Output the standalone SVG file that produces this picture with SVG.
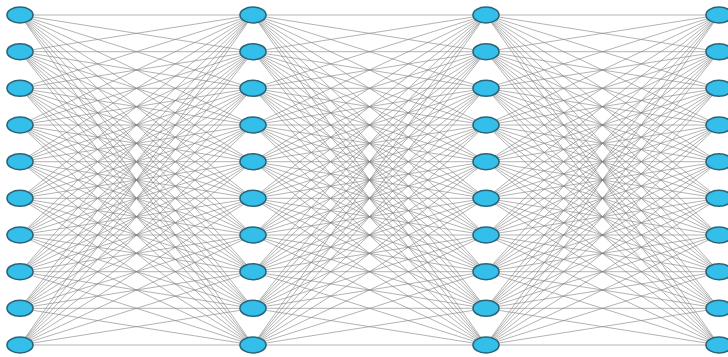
<svg xmlns="http://www.w3.org/2000/svg" xmlns:xlink="http://www.w3.org/1999/xlink" width="728" height="357" viewBox="0 0 728 357">
<style>
.e{fill:none;stroke:#808080;stroke-width:0.8;stroke-opacity:0.75}
.n{fill:#33bfea;stroke:#2b6479;stroke-width:1.6}
</style>
<rect width="728" height="357" fill="#ffffff"/>
<g id="connectors">
<g id="layer1" class="e">
<path d="M20 15L253 15M20 15L253 51.7M20 15L253 88.3M20 15L253 125M20 15L253 161.7M20 15L253 198.3M20 15L253 235M20 15L253 271.7M20 15L253 308.3M20 15L253 345"/>
<path d="M20 51.7L253 15M20 51.7L253 51.7M20 51.7L253 88.3M20 51.7L253 125M20 51.7L253 161.7M20 51.7L253 198.3M20 51.7L253 235M20 51.7L253 271.7M20 51.7L253 308.3M20 51.7L253 345"/>
<path d="M20 88.3L253 15M20 88.3L253 51.7M20 88.3L253 88.3M20 88.3L253 125M20 88.3L253 161.7M20 88.3L253 198.3M20 88.3L253 235M20 88.3L253 271.7M20 88.3L253 308.3M20 88.3L253 345"/>
<path d="M20 125L253 15M20 125L253 51.7M20 125L253 88.3M20 125L253 125M20 125L253 161.7M20 125L253 198.3M20 125L253 235M20 125L253 271.7M20 125L253 308.3M20 125L253 345"/>
<path d="M20 161.7L253 15M20 161.7L253 51.7M20 161.7L253 88.3M20 161.7L253 125M20 161.7L253 161.7M20 161.7L253 198.3M20 161.7L253 235M20 161.7L253 271.7M20 161.7L253 308.3M20 161.7L253 345"/>
<path d="M20 198.3L253 15M20 198.3L253 51.7M20 198.3L253 88.3M20 198.3L253 125M20 198.3L253 161.7M20 198.3L253 198.3M20 198.3L253 235M20 198.3L253 271.7M20 198.3L253 308.3M20 198.3L253 345"/>
<path d="M20 235L253 15M20 235L253 51.7M20 235L253 88.3M20 235L253 125M20 235L253 161.7M20 235L253 198.3M20 235L253 235M20 235L253 271.7M20 235L253 308.3M20 235L253 345"/>
<path d="M20 271.7L253 15M20 271.7L253 51.7M20 271.7L253 88.3M20 271.7L253 125M20 271.7L253 161.7M20 271.7L253 198.3M20 271.7L253 235M20 271.7L253 271.7M20 271.7L253 308.3M20 271.7L253 345"/>
<path d="M20 308.3L253 15M20 308.3L253 51.7M20 308.3L253 88.3M20 308.3L253 125M20 308.3L253 161.7M20 308.3L253 198.3M20 308.3L253 235M20 308.3L253 271.7M20 308.3L253 308.3M20 308.3L253 345"/>
<path d="M20 345L253 15M20 345L253 51.7M20 345L253 88.3M20 345L253 125M20 345L253 161.7M20 345L253 198.3M20 345L253 235M20 345L253 271.7M20 345L253 308.3M20 345L253 345"/>
</g>
<use id="layer2" xlink:href="#layer1" href="#layer1" transform="translate(233,0)"/>
<use id="layer3" xlink:href="#layer1" href="#layer1" transform="translate(466,0)"/>
</g>
<g id="nodes">
<g id="n0_0"><ellipse class="n" cx="20" cy="15" rx="13" ry="8"/></g>
<g id="n0_1"><ellipse class="n" cx="20" cy="51.7" rx="13" ry="8"/></g>
<g id="n0_2"><ellipse class="n" cx="20" cy="88.3" rx="13" ry="8"/></g>
<g id="n0_3"><ellipse class="n" cx="20" cy="125" rx="13" ry="8"/></g>
<g id="n0_4"><ellipse class="n" cx="20" cy="161.7" rx="13" ry="8"/></g>
<g id="n0_5"><ellipse class="n" cx="20" cy="198.3" rx="13" ry="8"/></g>
<g id="n0_6"><ellipse class="n" cx="20" cy="235" rx="13" ry="8"/></g>
<g id="n0_7"><ellipse class="n" cx="20" cy="271.7" rx="13" ry="8"/></g>
<g id="n0_8"><ellipse class="n" cx="20" cy="308.3" rx="13" ry="8"/></g>
<g id="n0_9"><ellipse class="n" cx="20" cy="345" rx="13" ry="8"/></g>
<g id="n1_0"><ellipse class="n" cx="253" cy="15" rx="13" ry="8"/></g>
<g id="n1_1"><ellipse class="n" cx="253" cy="51.7" rx="13" ry="8"/></g>
<g id="n1_2"><ellipse class="n" cx="253" cy="88.3" rx="13" ry="8"/></g>
<g id="n1_3"><ellipse class="n" cx="253" cy="125" rx="13" ry="8"/></g>
<g id="n1_4"><ellipse class="n" cx="253" cy="161.7" rx="13" ry="8"/></g>
<g id="n1_5"><ellipse class="n" cx="253" cy="198.3" rx="13" ry="8"/></g>
<g id="n1_6"><ellipse class="n" cx="253" cy="235" rx="13" ry="8"/></g>
<g id="n1_7"><ellipse class="n" cx="253" cy="271.7" rx="13" ry="8"/></g>
<g id="n1_8"><ellipse class="n" cx="253" cy="308.3" rx="13" ry="8"/></g>
<g id="n1_9"><ellipse class="n" cx="253" cy="345" rx="13" ry="8"/></g>
<g id="n2_0"><ellipse class="n" cx="486" cy="15" rx="13" ry="8"/></g>
<g id="n2_1"><ellipse class="n" cx="486" cy="51.7" rx="13" ry="8"/></g>
<g id="n2_2"><ellipse class="n" cx="486" cy="88.3" rx="13" ry="8"/></g>
<g id="n2_3"><ellipse class="n" cx="486" cy="125" rx="13" ry="8"/></g>
<g id="n2_4"><ellipse class="n" cx="486" cy="161.7" rx="13" ry="8"/></g>
<g id="n2_5"><ellipse class="n" cx="486" cy="198.3" rx="13" ry="8"/></g>
<g id="n2_6"><ellipse class="n" cx="486" cy="235" rx="13" ry="8"/></g>
<g id="n2_7"><ellipse class="n" cx="486" cy="271.7" rx="13" ry="8"/></g>
<g id="n2_8"><ellipse class="n" cx="486" cy="308.3" rx="13" ry="8"/></g>
<g id="n2_9"><ellipse class="n" cx="486" cy="345" rx="13" ry="8"/></g>
<g id="n3_0"><ellipse class="n" cx="719" cy="15" rx="13" ry="8"/></g>
<g id="n3_1"><ellipse class="n" cx="719" cy="51.7" rx="13" ry="8"/></g>
<g id="n3_2"><ellipse class="n" cx="719" cy="88.3" rx="13" ry="8"/></g>
<g id="n3_3"><ellipse class="n" cx="719" cy="125" rx="13" ry="8"/></g>
<g id="n3_4"><ellipse class="n" cx="719" cy="161.7" rx="13" ry="8"/></g>
<g id="n3_5"><ellipse class="n" cx="719" cy="198.3" rx="13" ry="8"/></g>
<g id="n3_6"><ellipse class="n" cx="719" cy="235" rx="13" ry="8"/></g>
<g id="n3_7"><ellipse class="n" cx="719" cy="271.7" rx="13" ry="8"/></g>
<g id="n3_8"><ellipse class="n" cx="719" cy="308.3" rx="13" ry="8"/></g>
<g id="n3_9"><ellipse class="n" cx="719" cy="345" rx="13" ry="8"/></g>
</g>
</svg>
